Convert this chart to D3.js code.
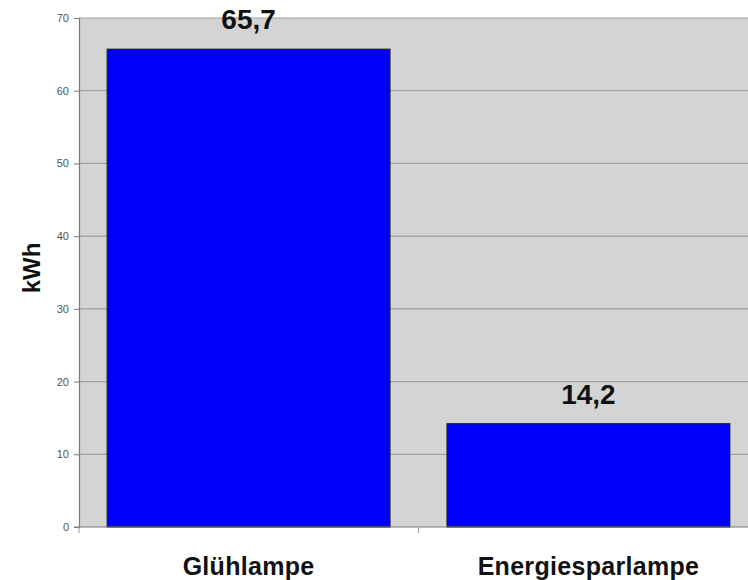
<!DOCTYPE html>
<html>
<head>
<meta charset="utf-8">
<script src="https://cdn.jsdelivr.net/npm/d3@7"></script>
<style>
  html, body { margin: 0; padding: 0; background: #fff; }
  svg { display: block; font-family: "Liberation Sans", Arial, sans-serif; }
</style>
</head>
<body>
<svg id="chart" width="748" height="580"></svg>
<script>
// Annual energy use per lamp type
const categories = ["Glühlampe", "Energiesparlampe"];
const values = [65.7, 14.2];
const valueLabels = ["65,7", "14,2"];
const yTicks = [0, 10, 20, 30, 40, 50, 60, 70];
const yTitle = "kWh";

const svg = d3.select("#chart");
const plotLeft = 79, plotTop = 18, plotRight = 758, plotBottom = 527;

const x = d3.scaleBand().domain(categories).range([plotLeft, plotRight]).paddingInner(0.168).paddingOuter(0.083);
const y = d3.scaleLinear().domain([0, 70]).range([plotBottom, plotTop]);

// plot background
svg.append("rect")
  .attr("x", plotLeft).attr("y", plotTop)
  .attr("width", plotRight - plotLeft).attr("height", plotBottom - plotTop)
  .attr("fill", "#d4d4d4");

// horizontal gridlines
svg.append("g").selectAll("line")
  .data(yTicks.filter(d => d > 0))
  .join("line")
  .attr("x1", plotLeft).attr("x2", plotRight)
  .attr("y1", d => y(d)).attr("y2", d => y(d))
  .attr("stroke", "#a2a2a2").attr("stroke-width", 1.2);

// bars
svg.append("g").selectAll("rect")
  .data(values)
  .join("rect")
  .attr("x", (d, i) => x(categories[i]))
  .attr("width", x.bandwidth())
  .attr("y", d => y(d))
  .attr("height", d => y(0) - y(d))
  .attr("fill", "#0000ff")
  .attr("stroke", "#1a1a1a").attr("stroke-width", 1.2);

// y axis
const yAxis = svg.append("g")
  .attr("transform", `translate(${plotLeft},0)`)
  .call(d3.axisLeft(y).tickValues(yTicks).tickSize(5).tickPadding(5).tickFormat(d3.format("d")));
yAxis.select(".domain").attr("stroke", "#7a7a7a").attr("stroke-width", 1.2);
yAxis.selectAll(".tick line").attr("stroke", "#7a7a7a");
yAxis.selectAll(".tick text")
  .attr("fill", "#555").style("font-size", "11px")
  .style("font-family", "'Liberation Sans', Arial, sans-serif");

// x axis line with category separators
const xAxisG = svg.append("g");
xAxisG.append("line")
  .attr("x1", plotLeft - 5).attr("x2", plotRight)
  .attr("y1", plotBottom).attr("y2", plotBottom)
  .attr("stroke", "#7a7a7a").attr("stroke-width", 1.2);
const boundaries = [plotLeft, (x(categories[0]) + x.bandwidth() + x(categories[1])) / 2];
xAxisG.selectAll("line.sep")
  .data(boundaries)
  .join("line").attr("class", "sep")
  .attr("x1", d => d).attr("x2", d => d)
  .attr("y1", plotBottom).attr("y2", plotBottom + 6)
  .attr("stroke", "#9a9a9a");

// category labels
svg.append("g").selectAll("text")
  .data(categories)
  .join("text")
  .attr("x", d => x(d) + x.bandwidth() / 2)
  .attr("y", 575)
  .attr("text-anchor", "middle")
  .attr("font-weight", "bold")
  .attr("font-size", 25)
  .attr("letter-spacing", 0.3)
  .attr("fill", "#111")
  .text(d => d);

// value labels above bars
svg.append("g").selectAll("text")
  .data(values)
  .join("text")
  .attr("x", (d, i) => x(categories[i]) + x.bandwidth() / 2)
  .attr("y", d => y(d) - 20)
  .attr("text-anchor", "middle")
  .attr("font-weight", "bold")
  .attr("font-size", 28)
  .attr("fill", "#111")
  .text((d, i) => valueLabels[i]);

// y axis title
svg.append("text")
  .attr("transform", `translate(40,268) rotate(-90)`)
  .attr("text-anchor", "middle")
  .attr("font-weight", "bold")
  .attr("font-size", 24)
  .attr("fill", "#111")
  .text(yTitle);
</script>
</body>
</html>
